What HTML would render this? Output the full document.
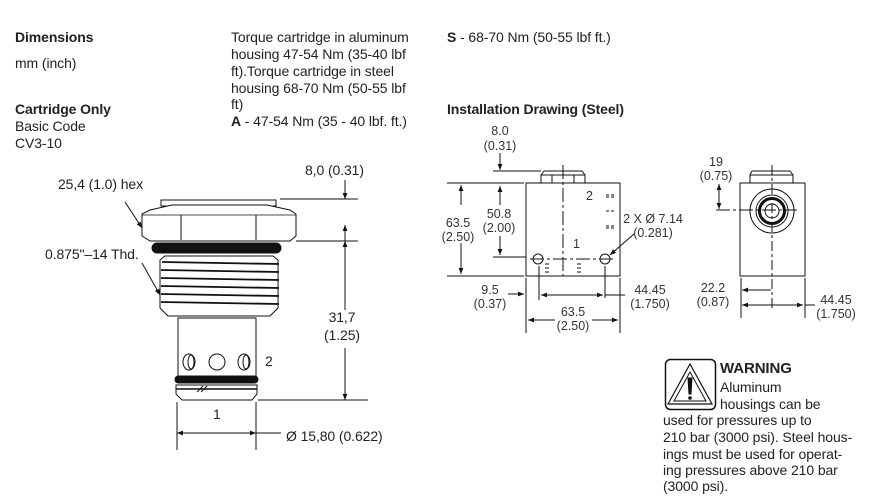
<!DOCTYPE html>
<html><head><meta charset="utf-8"><style>
html,body{margin:0;padding:0;background:#fff;}
svg{display:block;}
text{font-family:"Liberation Sans",sans-serif;fill:#222;}
.t{font-size:14px;letter-spacing:-0.1px;}
.b{font-weight:bold;}
.d{font-size:12.5px;fill:#333;}
</style></head><body>
<svg width="871" height="500" viewBox="0 0 871 500" xmlns="http://www.w3.org/2000/svg">
<defs>
<marker id="a" viewBox="0 0 10 10" refX="10" refY="5" markerWidth="8" markerHeight="6" orient="auto-start-reverse" markerUnits="userSpaceOnUse"><path d="M0,1 L10,5 L0,9 z" fill="#111"/></marker>
</defs>
<!-- Header text -->
<text class="t b" x="15" y="42">Dimensions</text>
<text class="t" x="15" y="68">mm (inch)</text>
<text class="t b" x="15" y="114">Cartridge Only</text>
<text class="t" x="15" y="131">Basic Code</text>
<text class="t" x="15" y="148">CV3-10</text>
<text class="t" x="231" y="42">Torque cartridge in aluminum</text>
<text class="t" x="231" y="59">housing 47-54 Nm (35-40 lbf</text>
<text class="t" x="231" y="76">ft).Torque cartridge in steel</text>
<text class="t" x="231" y="93">housing 68-70 Nm (50-55 lbf</text>
<text class="t" x="231" y="109">ft)</text>
<text class="t" x="231" y="126"><tspan class="b">A</tspan> - 47-54 Nm (35 - 40 lbf. ft.)</text>
<text class="t" x="447" y="42"><tspan class="b">S</tspan> - 68-70 Nm (50-55 lbf ft.)</text>
<text class="t b" x="447" y="114">Installation Drawing (Steel)</text>

<!-- Cartridge -->
<g stroke="#111" stroke-width="1" fill="none">
<rect x="161" y="200" width="115" height="6" fill="#fff"/>
<path d="M150,210 L172,205 L267,205 L290,210 L296,214 L296,236 L290,241 L150,241 L142,236 L142,214 Z" fill="#fff"/>
<line x1="181" y1="215" x2="181" y2="240"/><line x1="256" y1="215" x2="256" y2="240"/>
<path d="M142,215 L181,215 L256,215 L296,215" stroke-width="0.7"/>
<rect x="152" y="243" width="129" height="10" rx="5" fill="#111"/>
<path d="M165,256 L273,256 L278,260 L278,308 L270,316 L168,316 L160,308 L160,260 Z" fill="#fff"/>
<g stroke-width="1.8">
<line x1="162" y1="262" x2="279" y2="264"/><line x1="161" y1="270" x2="279" y2="272"/>
<line x1="161" y1="278" x2="279" y2="280"/><line x1="161" y1="286" x2="279" y2="288"/>
<line x1="161" y1="294" x2="279" y2="296"/><line x1="161" y1="302" x2="279" y2="304"/>
</g>
<rect x="178" y="318" width="78" height="60" fill="#fff"/>
<ellipse cx="189" cy="362" rx="6" ry="8"/><ellipse cx="191" cy="362" rx="3" ry="7"/>
<circle cx="217" cy="362" r="8"/>
<ellipse cx="244" cy="362" rx="6" ry="8"/><ellipse cx="246" cy="362" rx="3" ry="7"/>
<rect x="175" y="376" width="83" height="7" rx="3.5" fill="#111"/>
<path d="M176,385 L257,385 L257,394 L252,400 L182,400 L176,394 Z" fill="#fff"/>
<line x1="176" y1="389" x2="257" y2="389" stroke-width="1.5"/>
<line x1="197" y1="392" x2="203" y2="386"/><line x1="201" y1="392" x2="207" y2="386"/>
<!-- leaders -->
<line x1="125" y1="202" x2="142" y2="228" marker-end="url(#a)"/>
<line x1="142" y1="263" x2="160" y2="295" marker-end="url(#a)"/>
<!-- dims -->
<line x1="280" y1="199" x2="358" y2="199"/><line x1="296" y1="241" x2="358" y2="241"/>
<line x1="258" y1="400" x2="368" y2="400"/>
<line x1="345" y1="180" x2="345" y2="199" marker-end="url(#a)"/>
<line x1="345" y1="225" x2="345" y2="241" marker-start="url(#a)"/>
<line x1="345" y1="241" x2="345" y2="256" marker-start="url(#a)"/>
<line x1="345" y1="256" x2="345" y2="310"/>
<line x1="345" y1="348" x2="345" y2="400" marker-end="url(#a)"/>
<line x1="177" y1="402" x2="177" y2="450"/><line x1="256" y1="402" x2="256" y2="450"/>
<line x1="177" y1="433" x2="256" y2="433" marker-start="url(#a)" marker-end="url(#a)"/>
<line x1="256" y1="433" x2="281" y2="433"/>
</g>
<text class="t" x="58" y="189">25,4 (1.0) hex</text>
<text class="t" x="45" y="259">0.875"–14 Thd.</text>
<text class="t" x="305" y="175">8,0 (0.31)</text>
<text class="t" x="342" y="322" text-anchor="middle">31,7</text>
<text class="t" x="342" y="340" text-anchor="middle">(1.25)</text>
<text class="t" x="265" y="366">2</text>
<text class="t" x="213" y="419">1</text>
<text class="t" x="286" y="441">Ø 15,80 (0.622)</text>

<!-- Installation front view -->
<g stroke="#111" stroke-width="1" fill="none">
<rect x="526" y="183" width="94" height="93"/>
<path d="M544,171 L582,171 L585,175 L585,183 L541,183 L541,175 Z" fill="#fff"/>
<line x1="541" y1="175" x2="585" y2="175"/>
<line x1="552" y1="175" x2="552" y2="183"/><line x1="574" y1="175" x2="574" y2="183"/>
<line x1="563" y1="165" x2="563" y2="276" stroke-dasharray="14,3,3,3"/>
<line x1="530" y1="259" x2="615" y2="259" stroke-dasharray="14,3,3,3"/>
<circle cx="538" cy="259" r="5"/><circle cx="605" cy="259" r="5"/>
<line x1="546" y1="263" x2="546" y2="275" stroke-dasharray="2,2"/><line x1="548" y1="263" x2="548" y2="275" stroke-dasharray="2,2"/>
<line x1="578" y1="263" x2="578" y2="275" stroke-dasharray="2,2"/><line x1="580" y1="263" x2="580" y2="275" stroke-dasharray="2,2"/>
<line x1="606" y1="195" x2="615" y2="195" stroke-dasharray="3,2"/><line x1="606" y1="197" x2="615" y2="197" stroke-dasharray="3,2"/>
<line x1="606" y1="211" x2="615" y2="211" stroke-dasharray="3,2"/>
<line x1="606" y1="226" x2="615" y2="226" stroke-dasharray="3,2"/><line x1="606" y1="228" x2="615" y2="228" stroke-dasharray="3,2"/>
<!-- dims -->
<line x1="447" y1="183" x2="524" y2="183"/><line x1="447" y1="276" x2="524" y2="276"/>
<line x1="461" y1="205" x2="461" y2="185" marker-end="url(#a)"/>
<line x1="461" y1="243" x2="461" y2="274" marker-end="url(#a)"/>
<line x1="493" y1="257" x2="526" y2="257"/>
<line x1="500" y1="205" x2="500" y2="186" marker-end="url(#a)"/>
<line x1="500" y1="236" x2="500" y2="255" marker-end="url(#a)"/>
<line x1="493" y1="171" x2="541" y2="171"/>
<line x1="500" y1="153" x2="500" y2="170" marker-end="url(#a)"/>
<line x1="526" y1="278" x2="526" y2="333"/><line x1="620" y1="278" x2="620" y2="333"/>
<line x1="539" y1="266" x2="539" y2="300"/><line x1="605" y1="266" x2="605" y2="298"/>
<line x1="508" y1="294" x2="524" y2="294" marker-end="url(#a)"/>
<line x1="541" y1="295" x2="603" y2="295" marker-start="url(#a)" marker-end="url(#a)"/>
<line x1="605" y1="295" x2="625" y2="295"/>
<line x1="528" y1="320" x2="555" y2="320" marker-start="url(#a)"/>
<line x1="592" y1="320" x2="618" y2="320" marker-end="url(#a)"/>
<line x1="634" y1="234" x2="610" y2="255" marker-end="url(#a)"/>
</g>
<text class="d" x="500" y="135" text-anchor="middle">8.0</text>
<text class="d" x="500" y="150" text-anchor="middle">(0.31)</text>
<text class="d" x="458" y="227" text-anchor="middle">63.5</text>
<text class="d" x="458" y="241" text-anchor="middle">(2.50)</text>
<text class="d" x="499" y="218" text-anchor="middle">50.8</text>
<text class="d" x="499" y="232" text-anchor="middle">(2.00)</text>
<text class="d" x="586" y="200">2</text>
<text class="d" x="573" y="248">1</text>
<text class="d" x="653" y="223" text-anchor="middle">2 X Ø 7.14</text>
<text class="d" x="653" y="237" text-anchor="middle">(0.281)</text>
<text class="d" x="490" y="294" text-anchor="middle">9.5</text>
<text class="d" x="490" y="308" text-anchor="middle">(0.37)</text>
<text class="d" x="650" y="294" text-anchor="middle">44.45</text>
<text class="d" x="650" y="308" text-anchor="middle">(1.750)</text>
<text class="d" x="573" y="316" text-anchor="middle">63.5</text>
<text class="d" x="573" y="330" text-anchor="middle">(2.50)</text>

<!-- Side view -->
<g stroke="#111" stroke-width="1" fill="none">
<rect x="740" y="183" width="65" height="93"/>
<path d="M752,171 L790,171 L793,175 L793,183 L750,183 L750,175 Z" fill="#fff"/>
<line x1="750" y1="175" x2="793" y2="175"/>
<circle cx="772" cy="211" r="22"/><circle cx="772" cy="211" r="16"/>
<circle cx="772" cy="211" r="12.5" stroke-width="3"/><circle cx="772" cy="211" r="7"/>
<line x1="772" y1="165" x2="772" y2="310" stroke-dasharray="10,3,3,3"/>
<line x1="716" y1="210" x2="797" y2="210" stroke-dasharray="14,3,3,3"/>
<line x1="719" y1="199" x2="719" y2="184" marker-end="url(#a)"/>
<line x1="719" y1="198" x2="719" y2="209" marker-end="url(#a)"/>
<line x1="741" y1="278" x2="741" y2="318"/><line x1="805" y1="278" x2="805" y2="318"/>
<line x1="742" y1="290" x2="771" y2="290" marker-start="url(#a)"/>
<line x1="742" y1="305" x2="803" y2="305" marker-start="url(#a)" marker-end="url(#a)"/>
<line x1="805" y1="305" x2="815" y2="305"/>
</g>
<text class="d" x="716" y="166" text-anchor="middle">19</text>
<text class="d" x="716" y="180" text-anchor="middle">(0.75)</text>
<text class="d" x="713" y="292" text-anchor="middle">22.2</text>
<text class="d" x="713" y="306" text-anchor="middle">(0.87)</text>
<text class="d" x="836" y="304" text-anchor="middle">44.45</text>
<text class="d" x="836" y="318" text-anchor="middle">(1.750)</text>

<!-- Warning -->
<g stroke="#111" fill="none">
<rect x="665.5" y="359.5" width="50" height="50" rx="5" stroke-width="1.5"/>
<path d="M690,364 L712,404 L668,404 Z" stroke-width="1.2"/>
<path d="M690,372 L706,401 L674,401 Z" stroke-width="1"/>
<path d="M688,378 L692,378 L691,394 L689,394 Z" fill="#111"/>
<circle cx="690" cy="398" r="1.3" fill="#111"/>
</g>
<text class="t b" x="720" y="373" style="font-size:15px">WARNING</text>
<text class="t" x="720" y="392">Aluminum</text>
<text class="t" x="720" y="409">housings can be</text>
<text class="t" x="663" y="425">used for pressures up to</text>
<text class="t" x="663" y="442">210 bar (3000 psi). Steel hous-</text>
<text class="t" x="663" y="459">ings must be used for operat-</text>
<text class="t" x="663" y="475">ing pressures above 210 bar</text>
<text class="t" x="663" y="491">(3000 psi).</text>
</svg>
</body></html>
